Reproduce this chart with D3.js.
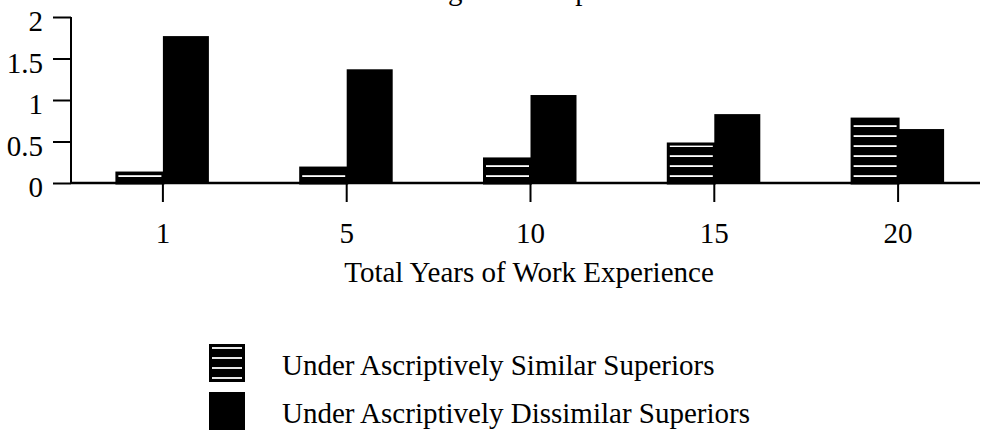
<!DOCTYPE html>
<html><head><meta charset="utf-8">
<script src="https://cdn.jsdelivr.net/npm/d3@7"></script>
<style>
html,body{margin:0;padding:0;background:#fff;}
svg{display:block;}
text{font-family:"Liberation Serif","Times New Roman",serif;fill:#000;}
</style></head>
<body>
<script>
const categories = ["1", "5", "10", "15", "20"];
const similarValues = [0.12, 0.18, 0.29, 0.47, 0.77];
const dissimilarValues = [1.77, 1.37, 1.06, 0.83, 0.65];
const yTicks = [0, 0.5, 1, 1.5, 2];
const seriesNames = ["Under Ascriptively Similar Superiors", "Under Ascriptively Dissimilar Superiors"];
const xTitle = "Total Years of Work Experience";
const chartTitle = "Average Rate Improvement";

const W = 989, H = 433;
const FS = 29;
const svg = d3.select("body").append("svg").attr("width", W).attr("height", H);

const defs = svg.append("defs");
const pat = defs.append("pattern").attr("id", "hatch")
  .attr("patternUnits", "userSpaceOnUse").attr("width", 10).attr("height", 10)
  .attr("y", 3);
pat.append("rect").attr("width", 10).attr("height", 10).attr("fill", "#000");
pat.append("rect").attr("x", 0).attr("y", 2.2).attr("width", 10).attr("height", 1.8).attr("fill", "#fff");

const x = d3.scaleBand().domain(categories).range([71, 990]).padding(0);
const y = d3.scaleLinear().domain([0, 2]).range([183, 17]);
const bw = 46;

// title (clipped at the top edge, as in the reference)
const t = svg.append("text").attr("class", "title").attr("x", 0).attr("y", -0.5)
  .attr("font-size", FS).text(chartTitle);
const gPos = t.node().getStartPositionOfChar(chartTitle.indexOf("g")).x;
t.attr("x", 448 - gPos);

// bars
const g = svg.append("g");
g.selectAll("rect.sim").data(categories).enter().append("rect").attr("class", "sim")
  .attr("x", d => x(d) + x.bandwidth() / 2 - bw)
  .attr("y", (d, i) => y(similarValues[i]))
  .attr("width", bw)
  .attr("height", (d, i) => y(0) - y(similarValues[i]))
  .attr("fill", "url(#hatch)").attr("stroke", "#000").attr("stroke-width", 3);
g.selectAll("rect.dis").data(categories).enter().append("rect").attr("class", "dis")
  .attr("x", d => x(d) + x.bandwidth() / 2)
  .attr("y", (d, i) => y(dissimilarValues[i]))
  .attr("width", bw)
  .attr("height", (d, i) => y(0) - y(dissimilarValues[i]))
  .attr("fill", "#000");

// y axis
const yAxis = svg.append("g").attr("transform", "translate(71,0)")
  .call(d3.axisLeft(y).tickValues(yTicks).tickFormat(d3.format("")).tickSize(18).tickPadding(10));
yAxis.select(".domain").attr("stroke-width", 2).attr("d", "M0," + y(2) + "V" + y(0));
yAxis.selectAll(".tick line").attr("stroke-width", 2);
yAxis.selectAll("text").attr("font-size", FS).attr("font-family", "Liberation Serif").attr("dy", "0.48em");

// x axis
const xAxis = svg.append("g").attr("transform", "translate(0," + y(0) + ")")
  .call(d3.axisBottom(x).tickSize(19).tickPadding(18));
xAxis.select(".domain").attr("stroke-width", 2.5).attr("d", "M71,0H980");
xAxis.selectAll(".tick line").attr("stroke-width", 2);
xAxis.selectAll("text").attr("font-size", FS).attr("font-family", "Liberation Serif")
  .attr("dy", null).attr("y", 60);

svg.append("text").attr("x", 529).attr("y", 282).attr("text-anchor", "middle")
  .attr("font-size", FS).text(xTitle);

// legend
const leg = svg.append("g");
const lg1 = leg.append("g");
lg1.append("rect").attr("x", 209).attr("y", 344).attr("width", 36).attr("height", 38)
  .attr("fill", "#000");
[348, 358, 368, 378].forEach(v => lg1.append("rect").attr("x", 212).attr("y", v - 0.9)
  .attr("width", 30).attr("height", 1.8).attr("fill", "#fff"));
leg.append("rect").attr("x", 209).attr("y", 392).attr("width", 36).attr("height", 38).attr("fill", "#000");
leg.selectAll("text").data(seriesNames).enter().append("text")
  .attr("x", 282).attr("y", (d, i) => 375 + i * 48).attr("font-size", FS).text(d => d);
</script>
</body></html>
